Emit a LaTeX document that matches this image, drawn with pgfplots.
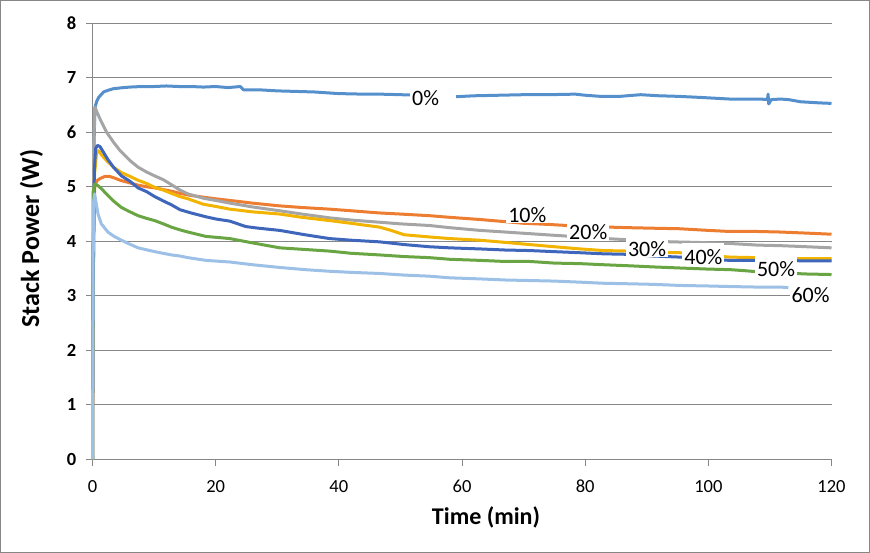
\documentclass[border=0pt]{standalone}
\usepackage{fontspec}
\setmainfont{Carlito}
\usepackage{pgfplots}
\pgfplotsset{compat=1.18}

\definecolor{c0}{HTML}{5590CC}
\definecolor{c10}{HTML}{ED7D31}
\definecolor{c20}{HTML}{A5A5A5}
\definecolor{c30}{HTML}{F2B400}
\definecolor{c40}{HTML}{3E66BA}
\definecolor{c50}{HTML}{6AA544}
\definecolor{c60}{HTML}{9DC0E6}
\definecolor{gridc}{HTML}{878787}

\tikzset{label node/.style={fill=white, inner xsep=2bp, inner ysep=0.5bp, text height=21bp, text depth=0.5bp, anchor=base, font=\fontsize{22bp}{26bp}\selectfont}}

\begin{document}
\begin{tikzpicture}
\path[use as bounding box] (0,0) rectangle (870bp,553bp);
\draw[gridc, line width=1bp] (0.5bp,0.5bp) rectangle (869.5bp,552.5bp);
\begin{axis}[
    at={(92.5bp,93.7bp)}, anchor=south west,
    width=739bp, height=436bp, scale only axis,
    xmin=0, xmax=120, ymin=0, ymax=8,
    xtick={0,20,...,120}, ytick={0,1,...,8},
    axis x line*=bottom, axis y line*=left,
    axis line style={gridc, line width=1bp, -},
    tick style={gridc, line width=1bp},
    tick align=outside, major tick length=6.5bp,
    ymajorgrids, grid style={gridc, line width=1bp},
    /pgf/number format/assume math mode=true,
    xticklabel style={font=\fontsize{18.5bp}{22bp}\selectfont, inner sep=0pt, anchor=north, yshift=-14bp},
    yticklabel style={font=\fontsize{18.5bp}{22bp}\selectfont\bfseries, inner sep=0pt, anchor=east, xshift=-9.5bp},
    xlabel={Time (min)}, ylabel={Stack Power (W)},
    xlabel style={font=\fontsize{24bp}{28bp}\selectfont\bfseries, at={(axis description cs:0.5325,-0.1323)}, anchor=center},
    ylabel style={font=\fontsize{26bp}{30bp}\selectfont\bfseries, at={(axis description cs:-0.0825,0.506)}, anchor=center},
    clip=false,
    every axis plot/.append style={line width=3bp, line join=round, no markers},
]
% 0%
\addplot[c0] coordinates {
(0,0) (0.1,3.0) (0.25,5.8) (0.4,6.46) (0.7,6.57) (1,6.64) (1.8,6.74) (2.5,6.77) (3.4,6.80) (5,6.82) (6.1,6.83) (8,6.84) (10,6.84) (12,6.85) (14,6.84) (16,6.84) (18,6.83) (20,6.84) (22,6.82) (24,6.84) (24.5,6.78) (27,6.78) (30,6.76) (33,6.75) (36,6.74) (40,6.71) (44,6.70) (46.7,6.70) (50,6.69) (53,6.68) (56,6.66) (58.5,6.65) (62,6.67) (66,6.68) (70,6.69) (74,6.69) (78.4,6.70) (80,6.68) (82.4,6.66) (85.7,6.66) (89,6.69) (92,6.67) (95,6.66) (98.7,6.64) (103.5,6.61) (108.4,6.61) (109.6,6.60) (109.7,6.70) (109.8,6.52) (110.2,6.60) (111.7,6.61) (113,6.60) (115,6.56) (118,6.54) (120,6.53)
};
% 10%
\addplot[c10] coordinates {
(0,0) (0.1,2.5) (0.2,4.3) (0.35,4.99) (0.7,5.11) (1.2,5.15) (2,5.19) (2.8,5.19) (3.6,5.16) (4.5,5.12) (5.8,5.08) (7.4,5.03) (8.8,5.0) (10.1,4.98) (12.8,4.92) (14.2,4.88) (16,4.84) (18,4.81) (20,4.78) (22.3,4.75) (26,4.70) (30.4,4.65) (34,4.62) (38.5,4.59) (42,4.56) (46.6,4.52) (50,4.50) (54.7,4.47) (58,4.44) (62.9,4.40) (66,4.37) (70,4.33) (74,4.31) (77,4.29) (80,4.28) (84,4.26) (87,4.25) (91,4.24) (95.4,4.23) (100,4.20) (103.5,4.18) (108,4.18) (111.7,4.17) (116,4.15) (120,4.13)
};
% 20%
\addplot[c20] coordinates {
(0,0) (0.1,3.5) (0.2,5.8) (0.4,6.46) (0.8,6.35) (1.2,6.25) (2.3,6.0) (3.4,5.82) (4.5,5.66) (6.1,5.48) (7.4,5.36) (8.8,5.27) (10.1,5.20) (11.5,5.13) (12.8,5.04) (14.2,4.94) (15.5,4.87) (18,4.79) (20,4.75) (22.3,4.70) (26,4.63) (30.4,4.56) (34,4.50) (38.5,4.43) (42,4.39) (46.6,4.35) (50,4.32) (54.7,4.29) (58,4.25) (62.9,4.20) (67,4.17) (71,4.14) (75,4.11) (79.2,4.08) (82,4.06) (85,4.04) (90,4.01) (94,3.99) (98,3.98) (103.5,3.96) (108,3.93) (111.7,3.92) (116,3.90) (120,3.88)
};
% 30%
\addplot[c30] coordinates {
(0,0) (0.1,3.0) (0.3,5.2) (0.7,5.66) (1.0,5.66) (1.5,5.58) (2.3,5.48) (3.4,5.36) (4.7,5.26) (6.1,5.19) (7.4,5.12) (8.8,5.06) (10.1,4.99) (11.5,4.94) (12.8,4.88) (14.2,4.82) (15.5,4.78) (18,4.68) (20,4.64) (22.3,4.59) (26,4.54) (30.4,4.50) (34,4.44) (38.5,4.38) (42,4.33) (46.6,4.26) (48.5,4.20) (50.6,4.12) (54.7,4.08) (58,4.05) (62.9,4.02) (67,3.98) (71,3.94) (75,3.90) (79.2,3.86) (83,3.83) (87.3,3.82) (91,3.80) (95.4,3.79) (100,3.74) (103.5,3.71) (108,3.70) (111.7,3.69) (116,3.68) (120,3.68)
};
% 40%
\addplot[c40] coordinates {
(0,0) (0.1,3.0) (0.3,5.3) (0.5,5.7) (0.8,5.76) (1.2,5.74) (1.8,5.63) (2.5,5.50) (3.4,5.36) (4.7,5.20) (6.1,5.10) (7.4,4.98) (8.8,4.91) (10.1,4.82) (11.5,4.74) (12.8,4.67) (14.2,4.58) (16,4.52) (18.4,4.45) (20,4.41) (22.3,4.37) (24.9,4.27) (27,4.24) (30.4,4.20) (34.5,4.12) (38.5,4.05) (42,4.02) (46.6,3.99) (50.6,3.94) (54.7,3.90) (58,3.88) (62.9,3.86) (67,3.84) (71,3.83) (75,3.81) (79.2,3.79) (83,3.77) (87.3,3.76) (91,3.73) (95.4,3.71) (100,3.67) (103.5,3.65) (108,3.65) (111.7,3.65) (116,3.64) (120,3.64)
};
% 50%
\addplot[c50] coordinates {
(0,0) (0.1,4.9) (0.35,5.05) (0.9,5.02) (1.5,4.96) (2.0,4.90) (3.3,4.75) (4.7,4.62) (6.1,4.54) (7.4,4.47) (8.8,4.42) (10.1,4.38) (11.5,4.32) (12.8,4.26) (14.2,4.21) (15.5,4.17) (18.4,4.09) (22.3,4.05) (26,3.97) (27.5,3.94) (30.4,3.88) (34.5,3.85) (38.5,3.82) (42,3.78) (46.6,3.75) (50.6,3.72) (54.7,3.70) (58,3.67) (62.9,3.65) (67,3.63) (71,3.63) (75,3.60) (79.2,3.59) (83,3.57) (87.3,3.55) (91,3.53) (95.4,3.51) (100,3.49) (103.5,3.48) (106,3.46) (108,3.44) (111.7,3.42) (116,3.40) (120,3.39)
};
% 60%
\addplot[c60] coordinates {
(0,0) (0.15,4.7) (0.35,4.87) (0.62,4.68) (0.9,4.50) (1.43,4.32) (2.5,4.17) (3.5,4.09) (4.7,4.02) (6,3.95) (7.4,3.88) (10.1,3.81) (12.8,3.75) (14.2,3.73) (15.5,3.70) (18.4,3.65) (22.3,3.62) (26,3.57) (30.4,3.52) (34.5,3.48) (38.5,3.45) (42,3.43) (46.6,3.41) (50.6,3.38) (54.7,3.36) (58,3.33) (62.9,3.31) (67,3.29) (71,3.28) (75,3.27) (79.2,3.25) (83,3.23) (87.3,3.22) (91,3.21) (95.4,3.19) (100,3.18) (103.5,3.17) (108,3.16) (111.7,3.16) (113,3.15)
};
% data labels
\node[label node, anchor=base west] at (axis cs:51.55,6.50) {0\%\hspace*{15bp}};
\node[label node] at (axis cs:70.6,4.354) {10\%};
\node[label node] at (axis cs:80.5,4.024) {20\%};
\node[label node] at (axis cs:90.05,3.730) {30\%};
\node[label node] at (axis cs:99.2,3.583) {40\%};
\node[label node] at (axis cs:111.0,3.345) {50\%};
\node[label node] at (axis cs:116.6,2.886) {60\%};
\end{axis}
\end{tikzpicture}
\end{document}
